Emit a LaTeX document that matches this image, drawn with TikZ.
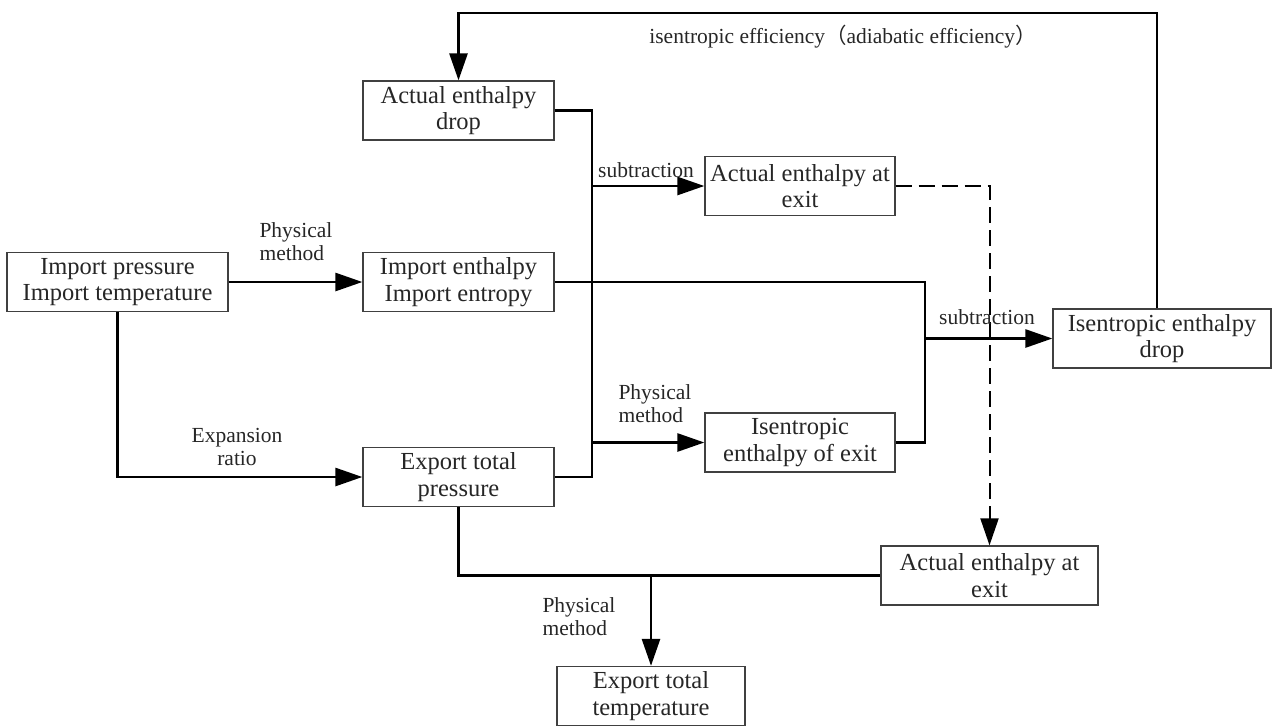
\documentclass[tikz,border=0pt]{standalone}
\usepackage{fontspec}
\setmainfont{Liberation Serif}
\newfontfamily\cjk{Noto Sans CJK SC}
\usetikzlibrary{arrows.meta,calc}

\begin{document}
\begin{tikzpicture}[x=1pt,y=-1pt,
    block/.style={draw=black!75, line width=1.3pt, minimum height=59pt, inner sep=2pt,
      align=center, text=black!85, font=\fontsize{24.5}{26.5}\selectfont},
    lbl/.style={align=center, text=black!85, font=\fontsize{21.5}{23}\selectfont},
    link/.style={line width=2.3pt},
    flow/.style={line width=2.7pt, -{Triangle[length=27pt,width=18pt]}},
  ]
    \useasboundingbox (0,0) rectangle (1274,726);

    % blocks
    \node[block, minimum width=221pt] (inlet) at (117.5,282) {Import pressure\\Import temperature};
    \node[block, minimum width=191pt] (inprop) at (458.5,282) {Import enthalpy\\Import entropy};
    \node[block, minimum width=191pt] (actdrop) at (458.5,110.5) {Actual enthalpy\\drop};
    \node[block, minimum width=191pt] (outp) at (458.5,477) {Export total\\pressure};
    \node[block, minimum width=190pt] (actexit) at (800,186) {Actual enthalpy at\\exit};
    \node[block, minimum width=190pt] (isexit) at (800,442.5) {Isentropic\\enthalpy of exit};
    \node[block, minimum width=218pt] (isdrop) at (1162,338.5) {Isentropic enthalpy\\drop};
    \node[block, minimum width=217pt] (actexit2) at (989.5,575.5) {Actual enthalpy at\\exit};
    \node[block, minimum width=188pt] (outt) at (651,696) {Export total\\temperature};

    % bus lines
    \coordinate (effR) at (1157,13);
    \coordinate (busL) at (592,0);
    \coordinate (busR) at (925,0);

    % connections
    \draw[flow] (isdrop.north -| effR) -- (effR) -| (actdrop.north);
    \draw[flow] (inlet) -- (inprop);
    \draw[flow] (inlet.south) |- (outp.west);
    \draw[link] (actdrop.east) -| (outp.east -| busL) -- (outp.east);
    \draw[flow] (actexit.west -| busL) -- (actexit.west);
    \draw[flow] (isexit.west -| busL) -- (isexit.west);
    \draw[link] (inprop.east) -| (isexit.east -| busR) -- (isexit.east);
    \draw[flow] (isdrop.west -| busR) -- (isdrop.west);
    \draw[flow, dash pattern=on 16pt off 7pt, line width=2pt] (actexit.east) -| (actexit2.north);
    \draw[link] (outp.south) |- (actexit2.west);
    \draw[flow] (outt.north |- actexit2.west) -- (outt.north);

    % labels
    \node[lbl] (eff) at (843,37) {isentropic efficiency{\cjk （}adiabatic efficiency{\cjk ）}};
    \node[lbl, anchor=west, align=left] (pm1) at (256,242) {Physical\\method};
    \node[lbl, anchor=west, align=left] (pm2) at (615,404) {Physical\\method};
    \node[lbl, anchor=west, align=left] (pm3) at (539,617) {Physical\\method};
    \node[lbl] (exp) at (237,447) {Expansion\\ratio};
    \node[lbl] (sub1) at (646,170) {subtraction};
    \node[lbl] (sub2) at (987,317) {subtraction};
\end{tikzpicture}
\end{document}
